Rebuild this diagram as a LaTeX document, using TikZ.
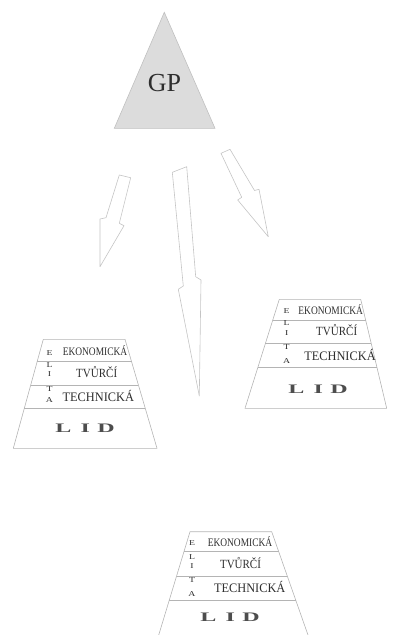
\documentclass[tikz,border=0pt]{standalone}
\usepackage{fontspec}
\setmainfont{Liberation Serif}
\usetikzlibrary{calc}
\definecolor{lineg}{HTML}{B4B4B4}
\definecolor{arrg}{HTML}{C4C4C4}
\definecolor{trifill}{HTML}{DCDCDC}
\definecolor{tribord}{HTML}{C0C0C0}
\definecolor{txt}{HTML}{2E2E2E}
\newcommand\tEko{\scalebox{0.82}[1]{EKONOMICKÁ}}
\newcommand\tTvu{\scalebox{0.88}[1]{TVŮRČÍ}}
\newcommand\tTec{\scalebox{0.95}[1]{TECHNICKÁ}}
\newcommand\tLid{\scalebox{1.85}[1]{\bfseries L\hspace{5pt}I\hspace{4pt}D}}
\newcommand\tLet[1]{\scalebox{1.3}[1]{#1}}
\tikzset{
  pyr/.style={draw=lineg, line width=0.6pt, line join=round},
  arr/.style={draw=arrg, line width=0.6pt, line join=round},
  lay/.style={inner sep=0pt, text=txt, text depth=0pt},
  eko/.style={lay, font=\fontsize{11.5}{12}\selectfont, text height=7.6pt},
  tvu/.style={lay, font=\fontsize{12.5}{13}\selectfont, text height=8.3pt},
  tec/.style={lay, font=\fontsize{13}{14}\selectfont, text height=8.6pt},
  lid/.style={lay, text=txt!85, font=\fontsize{13}{14}\selectfont, text height=8.6pt},
  elt/.style={lay, font=\fontsize{7.5}{8}\selectfont, text height=4.9pt},
}
\begin{document}
\begin{tikzpicture}[x=1pt,y=-1pt]
\useasboundingbox (0,0) rectangle (395,635);
\clip (0,0) rectangle (395,635);
% top triangle
\coordinate (ta) at (164.3,12.3);
\coordinate (tb) at (114.3,128.3);
\coordinate (tc) at (215,128.3);
\draw[draw=tribord, fill=trifill, line width=0.6pt] (ta) -- (tb) -- (tc) -- cycle;
\node[inner sep=0pt, text=txt, font=\fontsize{26}{28}\selectfont] (gp) at (164.5,83) {GP};
% arrows
\draw[arr] (119.3,175) -- (130.7,177.7) -- (119.3,223.3) -- (124,225.7) -- (100,266.7) -- (100,219) -- (106,217.7) -- cycle;
\draw[arr] (172.3,172.3) -- (186.7,166.7) -- (195.7,276.7) -- (201,280) -- (199.3,396) -- (178.3,289.3) -- (183.3,286) -- cycle;
\draw[arr] (221,153.3) -- (230,149.3) -- (254.5,190.5) -- (259,189.3) -- (268.3,236.7) -- (237.7,200) -- (241.7,197.3) -- cycle;
% left pyramid
\coordinate (a1) at (43.3,339.3);
\coordinate (a2) at (125,339.3);
\coordinate (a3) at (13.3,448.3);
\coordinate (a4) at (157,448.3);
\draw[pyr] (a1) -- (a2) -- (a4) -- (a3) -- cycle;
\foreach \f in {0.205,0.419,0.633}
  \draw[pyr] ($(a1)!\f!(a3)$) -- ($(a2)!\f!(a4)$);
\node[eko] (a-eko) at (95,351.5) {\tEko};
\node[tvu] (a-tvu) at (96.7,373.5) {\tTvu};
\node[tec] (a-tec) at (98.3,396.7) {\tTec};
\node[lid] (a-lid) at (85,428.3) {\tLid};
\node[elt] (a-e) at (49.5,353.3) {\tLet{E}};
\node[elt] (a-l) at (49.5,365) {\tLet{L}};
\node[elt] (a-i) at (49.5,374) {\tLet{I}};
\node[elt] (a-t) at (49.5,389.3) {\tLet{T}};
\node[elt] (a-a) at (49.5,400.5) {\tLet{A}};
% right pyramid
\coordinate (b1) at (279.3,299.3);
\coordinate (b2) at (360.7,299.3);
\coordinate (b3) at (245,408.3);
\coordinate (b4) at (386.7,408.3);
\draw[pyr] (b1) -- (b2) -- (b4) -- (b3) -- cycle;
\foreach \f in {0.19,0.404,0.624}
  \draw[pyr] ($(b1)!\f!(b3)$) -- ($(b2)!\f!(b4)$);
\node[eko] (b-eko) at (330.7,311) {\tEko};
\node[tvu] (b-tvu) at (336.7,331) {\tTvu};
\node[tec] (b-tec) at (340,356) {\tTec};
\node[lid] (b-lid) at (318,389.3) {\tLid};
\node[elt] (b-e) at (286.7,310.7) {\tLet{E}};
\node[elt] (b-l) at (286.7,323.3) {\tLet{L}};
\node[elt] (b-i) at (286.7,333.5) {\tLet{I}};
\node[elt] (b-t) at (286.7,347.3) {\tLet{T}};
\node[elt] (b-a) at (286.7,360.7) {\tLet{A}};
% bottom pyramid
\coordinate (c1) at (190,531.7);
\coordinate (c2) at (271.7,531.7);
\coordinate (c3) at (157,640.7);
\coordinate (c4) at (310,640.7);
\draw[pyr] (c1) -- (c2) -- (c4) -- (c3) -- cycle;
\foreach \f in {0.183,0.406,0.626}
  \draw[pyr] ($(c1)!\f!(c3)$) -- ($(c2)!\f!(c4)$);
\node[eko] (c-eko) at (240,542.7) {\tEko};
\node[tvu] (c-tvu) at (240.5,564) {\tTvu};
\node[tec] (c-tec) at (249.7,588.3) {\tTec};
\node[lid] (c-lid) at (230,617.3) {\tLid};
\node[elt] (c-e) at (192,543.3) {\tLet{E}};
\node[elt] (c-l) at (192,556.7) {\tLet{L}};
\node[elt] (c-i) at (192,566) {\tLet{I}};
\node[elt] (c-t) at (192,580) {\tLet{T}};
\node[elt] (c-a) at (192,594) {\tLet{A}};
\end{tikzpicture}
\end{document}
